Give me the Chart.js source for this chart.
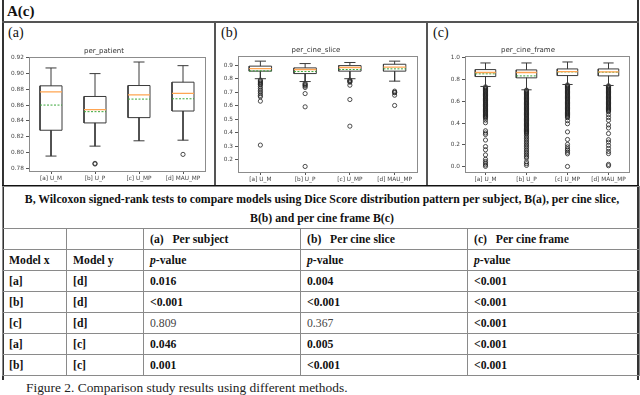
<!DOCTYPE html>
<html lang="en">
<head>
<meta charset="UTF-8">
<title>Comparison study results</title>
<script src="https://cdn.jsdelivr.net/npm/chart.js"></script>
<style>
  body {
    margin: 0;
    width: 640px;
    height: 395px;
    overflow: hidden;
    background: #fff;
    position: relative;
    font-family: 'Liberation Serif', 'Times New Roman', serif;
    color: #111;
  }
  .line { position: absolute; background: #555; }
  .lbl { position: absolute; font-size: 14px; line-height: 16px; }
  canvas { position: absolute; }
  table {
    position: absolute;
    left: 2px;
    top: 186px;
    width: 637px;
    border-collapse: collapse;
    table-layout: fixed;
    font-size: 13px;
  }
  td {
    border: 1px solid #8a8a8a;
    padding: 0 0 0 6px;
    height: 20px;
    font-weight: bold;
    white-space: nowrap;
    overflow: hidden;
    line-height: 14px;
  }
  td span { display: inline-block; transform: scaleX(0.9); transform-origin: left center; }
  td.title { text-align: center; padding: 0; line-height: 19px; height: 41px; }
  td.title span {
    display: block; width: 700px; margin-left: -31px; text-align: center;
    transform-origin: center center; transform: scaleX(0.905);
  }
  td.plain { font-weight: normal; color: #444; }
  #caption { position: absolute; left: 26px; top: 380px; font-size: 13.4px; line-height: 16px; color: #222; }
</style>
</head>
<body>
  <div class="lbl" style="left:7px; top:3px; font-weight:bold; font-size:15px;">A(c)</div>
  <div class="lbl" style="left:8px; top:25px;">(a)</div>
  <div class="lbl" style="left:221px; top:25px;">(b)</div>
  <div class="lbl" style="left:433px; top:25px;">(c)</div>

  <div class="line" style="left:2px; top:0; width:2px; height:380px; background:#333;"></div>
  <div class="line" style="left:637px; top:0; width:2px; height:380px; background:#333;"></div>
  <div class="line" style="left:2px; top:21px; width:637px; height:1.5px;"></div>
  <div class="line" style="left:214px; top:21px; width:1.5px; height:165px;"></div>
  <div class="line" style="left:426px; top:21px; width:1.5px; height:165px;"></div>

  <canvas id="chartA" width="211" height="142" style="left:3px; top:42px;"></canvas>
  <canvas id="chartB" width="211" height="142" style="left:215px; top:42px;"></canvas>
  <canvas id="chartC" width="210" height="142" style="left:427px; top:42px;"></canvas>

  <div class="line" style="left:2px; top:185px; width:637px; height:2px; background:#111;"></div>

  <table>
    <colgroup>
      <col style="width:64px"><col style="width:77px"><col style="width:157px"><col style="width:167px"><col style="width:172px">
    </colgroup>
    <tr><td class="title" colspan="5"><span>B, Wilcoxon signed-rank tests to compare models using Dice Score distribution pattern per subject, B(a), per cine slice,</span><span>B(b) and per cine frame B(c)</span></td></tr>
    <tr><td></td><td></td><td><span>(a)&nbsp;&nbsp; Per subject</span></td><td><span>(b)&nbsp;&nbsp; Per cine slice</span></td><td><span>(c)&nbsp;&nbsp; Per cine frame</span></td></tr>
    <tr><td><span>Model x</span></td><td><span>Model y</span></td><td><span><i>p</i>-value</span></td><td><span><i>p</i>-value</span></td><td><span><i>p</i>-value</span></td></tr>
    <tr><td><span>[a]</span></td><td><span>[d]</span></td><td><span>0.016</span></td><td><span>0.004</span></td><td><span>&lt;0.001</span></td></tr>
    <tr><td><span>[b]</span></td><td><span>[d]</span></td><td><span>&lt;0.001</span></td><td><span>&lt;0.001</span></td><td><span>&lt;0.001</span></td></tr>
    <tr><td><span>[c]</span></td><td><span>[d]</span></td><td class="plain"><span>0.809</span></td><td class="plain"><span>0.367</span></td><td><span>&lt;0.001</span></td></tr>
    <tr><td><span>[a]</span></td><td><span>[c]</span></td><td><span>0.046</span></td><td><span>0.005</span></td><td><span>&lt;0.001</span></td></tr>
    <tr><td><span>[b]</span></td><td><span>[c]</span></td><td><span>0.001</span></td><td><span>&lt;0.001</span></td><td><span>&lt;0.001</span></td></tr>
  </table>
  <div id="caption">Figure 2. Comparison study results using different methods.</div>

<script>
const categories = ['[a] U_M', '[b] U_P', '[c] U_MP', '[d] MAU_MP'];

// (a) per_patient
const aLow    = [0.7958, 0.8083, 0.815, 0.8158];
const aQ1     = [0.8283, 0.8375, 0.8442, 0.8525];
const aMedian = [0.8767, 0.8542, 0.8729, 0.8746];
const aMean   = [0.8600, 0.8517, 0.8675, 0.8679];
const aQ3     = [0.8842, 0.8708, 0.8846, 0.8888];
const aHigh   = [0.9067, 0.8996, 0.9142, 0.9096];
const aOutliers = [[], [0.7858, 0.7866], [], [0.7979]];
const aTicks = [0.78, 0.80, 0.82, 0.84, 0.86, 0.88, 0.90, 0.92];

// (b) per_cine_slice
const bLow    = [0.800, 0.779, 0.800, 0.782];
const bQ1     = [0.856, 0.838, 0.856, 0.856];
const bMedian = [0.875, 0.868, 0.883, 0.885];
const bMean   = [0.858, 0.853, 0.868, 0.873];
const bQ3     = [0.893, 0.880, 0.897, 0.907];
const bHigh   = [0.930, 0.912, 0.920, 0.930];
const bOutliers = [
  [0.790, 0.783, 0.776, 0.768, 0.761, 0.755, 0.742, 0.728, 0.715, 0.703, 0.690, 0.676, 0.666, 0.634, 0.309],
  [0.766, 0.758, 0.752, 0.745, 0.735, 0.690, 0.592, 0.151],
  [0.790, 0.785, 0.780, 0.774, 0.752, 0.646, 0.449],
  [0.708, 0.700, 0.696, 0.678, 0.602]
];
const bTicks = [0.2, 0.3, 0.4, 0.5, 0.6, 0.7, 0.8, 0.9];

// (c) per_cine_frame
const cLow    = [0.738, 0.707, 0.756, 0.747];
const cQ1     = [0.829, 0.817, 0.838, 0.835];
const cMedian = [0.866, 0.866, 0.875, 0.872];
const cMean   = [0.854, 0.835, 0.872, 0.869];
const cQ3     = [0.893, 0.890, 0.899, 0.899];
const cHigh   = [0.954, 0.954, 0.963, 0.954];
const cOutliers = [
  [0.734, 0.726, 0.719, 0.711, 0.702, 0.695, 0.688, 0.679, 0.671, 0.664, 0.655, 0.648, 0.641, 0.632, 0.625,
   0.617, 0.609, 0.602, 0.594, 0.586, 0.578, 0.571, 0.563, 0.555, 0.548, 0.539, 0.532, 0.524, 0.517, 0.509,
   0.501, 0.494, 0.486, 0.478, 0.47, 0.463, 0.455, 0.447, 0.428, 0.404, 0.33, 0.31, 0.296, 0.245, 0.185,
   0.155, 0.108, 0.068, 0.048, 0.032, 0.016, 0.003],
  [0.704, 0.697, 0.689, 0.681, 0.673, 0.666, 0.658, 0.65, 0.643, 0.635, 0.627, 0.619, 0.612, 0.604, 0.596,
   0.588, 0.581, 0.573, 0.565, 0.557, 0.55, 0.542, 0.534, 0.527, 0.519, 0.511, 0.503, 0.496, 0.488, 0.48,
   0.473, 0.465, 0.457, 0.449, 0.442, 0.434, 0.426, 0.418, 0.411, 0.403, 0.395, 0.387, 0.38, 0.372, 0.364,
   0.356, 0.349, 0.341, 0.333, 0.325, 0.318, 0.31, 0.302, 0.287, 0.272, 0.258, 0.243, 0.228, 0.213, 0.198,
   0.184, 0.168, 0.152, 0.137, 0.122, 0.107, 0.092, 0.078, 0.045, 0.028, 0.012],
  [0.752, 0.745, 0.737, 0.729, 0.721, 0.714, 0.706, 0.698, 0.69, 0.683, 0.675, 0.667, 0.659, 0.652, 0.644,
   0.636, 0.628, 0.621, 0.613, 0.605, 0.597, 0.59, 0.582, 0.574, 0.566, 0.559, 0.551, 0.543, 0.535, 0.528,
   0.52, 0.512, 0.504, 0.497, 0.489, 0.481, 0.473, 0.466, 0.458, 0.45, 0.423, 0.395, 0.32, 0.25, 0.205,
   0.182, 0.163, 0.15, 0.133, 0.118, 0.002],
  [0.744, 0.737, 0.729, 0.721, 0.713, 0.706, 0.698, 0.69, 0.682, 0.675, 0.667, 0.659, 0.651, 0.644, 0.636,
   0.628, 0.62, 0.613, 0.605, 0.597, 0.589, 0.582, 0.574, 0.566, 0.558, 0.551, 0.543, 0.535, 0.527, 0.52,
   0.512, 0.504, 0.478, 0.452, 0.426, 0.384, 0.356, 0.305, 0.248, 0.226, 0.196, 0.168, 0.14, 0.12, 0.021, 0.009]
];
const cTicks = [0.0, 0.2, 0.4, 0.6, 0.8, 1.0];

const BOX_HALF = 0.25, CAP_HALF = 0.125;
const edgeColor = '#3a3a3a';

function buildDatasets(low, q1, med, mean, q3, high, outliers) {
  const boxes = [], whiskers = [], medians = [], means = [], pts = [];
  categories.forEach((c, i) => {
    const x = i + 1;
    boxes.push({x: x - BOX_HALF, y: q1[i]}, {x: x + BOX_HALF, y: q1[i]}, {x: x + BOX_HALF, y: q3[i]},
               {x: x - BOX_HALF, y: q3[i]}, {x: x - BOX_HALF, y: q1[i]}, {x: x, y: null});
    whiskers.push({x: x, y: q1[i]}, {x: x, y: low[i]}, {x: x, y: null},
                  {x: x - CAP_HALF, y: low[i]}, {x: x + CAP_HALF, y: low[i]}, {x: x, y: null},
                  {x: x, y: q3[i]}, {x: x, y: high[i]}, {x: x, y: null},
                  {x: x - CAP_HALF, y: high[i]}, {x: x + CAP_HALF, y: high[i]}, {x: x, y: null});
    medians.push({x: x - BOX_HALF, y: med[i]}, {x: x + BOX_HALF, y: med[i]}, {x: x, y: null});
    means.push({x: x - BOX_HALF, y: mean[i]}, {x: x + BOX_HALF, y: mean[i]}, {x: x, y: null});
    outliers[i].forEach(v => pts.push({x: x, y: v}));
  });
  const lineDs = (data, color, extra) => Object.assign({
    data, showLine: true, spanGaps: false, borderColor: color, borderWidth: 1,
    pointRadius: 0, fill: false, tension: 0
  }, extra || {});
  return [
    lineDs(medians, '#ffa552', {borderWidth: 1.3}),
    lineDs(means, '#3aa63a', {borderDash: [2, 1.5]}),
    lineDs(boxes, edgeColor),
    lineDs(whiskers, edgeColor),
    {data: pts, showLine: false, pointRadius: 2.1, pointBorderWidth: 0.8,
     pointBorderColor: '#222', pointBackgroundColor: 'rgba(0,0,0,0)'}
  ];
}

const framePlugin = {
  id: 'frame',
  afterDraw(chart) {
    const a = chart.chartArea, ctx = chart.ctx;
    ctx.save();
    ctx.strokeStyle = '#8c8c8c';
    ctx.lineWidth = 1;
    ctx.strokeRect(Math.round(a.left) + 0.5, Math.round(a.top) + 0.5,
                   Math.round(a.right - a.left), Math.round(a.bottom - a.top));
    ctx.restore();
  }
};

function makePanel(id, title, datasets, yMin, yMax, ticks, decimals, layout) {
  new Chart(document.getElementById(id), {
    type: 'scatter',
    data: { datasets },
    options: {
      animation: false,
      responsive: false,
      layout: { padding: { top: layout.top, right: layout.right, left: 0, bottom: 0 } },
      plugins: {
        legend: { display: false },
        tooltip: { enabled: false },
        title: {
          display: true, text: title, color: '#333',
          font: { size: 7, family: 'DejaVu Sans', weight: 'normal' },
          padding: { top: 0, bottom: 2 }
        }
      },
      scales: {
        x: {
          type: 'linear', min: 0.5, max: 4.5,
          afterBuildTicks: s => { s.ticks = categories.map((c, i) => ({ value: i + 1 })); },
          afterFit: s => { s.height = layout.xh; },
          ticks: {
            callback: v => categories[v - 1], autoSkip: false, maxRotation: 0,
            font: { size: 5.8, family: 'DejaVu Sans' }, color: '#444', padding: 1
          },
          grid: { drawOnChartArea: false, tickLength: 3, color: '#555' },
          border: { color: '#8c8c8c' }
        },
        y: {
          min: yMin, max: yMax,
          afterBuildTicks: s => { s.ticks = ticks.map(v => ({ value: v })); },
          afterFit: s => { s.width = layout.yw; },
          ticks: {
            callback: v => v.toFixed(decimals),
            font: { size: 5.8, family: 'DejaVu Sans' }, color: '#444', padding: 2
          },
          grid: { drawOnChartArea: false, tickLength: 3, color: '#555' },
          border: { color: '#8c8c8c' }
        }
      }
    },
    plugins: [framePlugin]
  });
}

makePanel('chartA', 'per_patient',
  buildDatasets(aLow, aQ1, aMedian, aMean, aQ3, aHigh, aOutliers),
  0.777, 0.9205, aTicks, 2, { top: 4.6, right: 9, xh: 13, yw: 26 });
makePanel('chartB', 'per_cine_slice',
  buildDatasets(bLow, bQ1, bMedian, bMean, bQ3, bHigh, bOutliers),
  0.11, 0.968, bTicks, 1, { top: 3.6, right: 9, xh: 12, yw: 23 });
makePanel('chartC', 'per_cine_frame',
  buildDatasets(cLow, cQ1, cMedian, cMean, cQ3, cHigh, cOutliers),
  -0.049, 1.018, cTicks, 1, { top: 3.6, right: 8, xh: 12, yw: 38 });
</script>
</body>
</html>
